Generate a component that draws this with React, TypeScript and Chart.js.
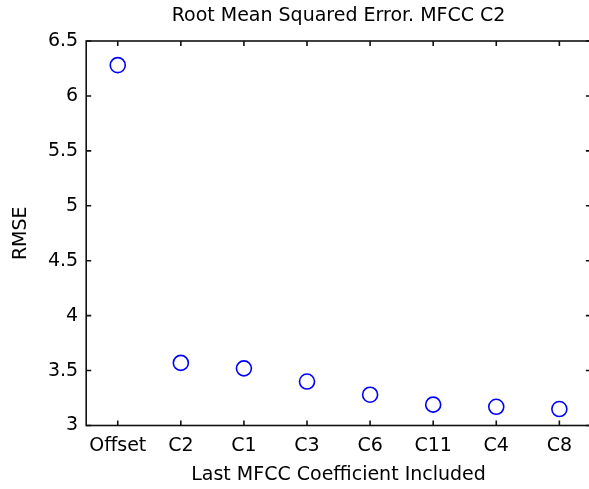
import React, { useEffect, useRef } from "react";
import { Chart, registerables } from "chart.js";

Chart.register(...registerables);

const categories = ["Offset", "C2", "C1", "C3", "C6", "C11", "C4", "C8"];
const rmseValues = [6.28, 3.57, 3.52, 3.40, 3.28, 3.19, 3.17, 3.15];
const yMin = 3;
const yMax = 6.5;
const yStep = 0.5;

const FONT = "'DejaVu Sans', 'Liberation Sans', Arial, sans-serif";

const framePlugin = {
  id: "frame",
  afterDraw(chart: any) {
    const { ctx, chartArea } = chart;
    const { left, right, top, bottom } = chartArea;
    const xs = chart.scales.x;
    const ys = chart.scales.y;
    ctx.save();
    ctx.strokeStyle = "#111";
    ctx.lineWidth = 1.6;
    ctx.strokeRect(left, top, right - left, bottom - top);
    const tl = 5;
    ctx.beginPath();
    xs.ticks.forEach((_t: any, i: number) => {
      const px = xs.getPixelForTick(i);
      ctx.moveTo(px, bottom);
      ctx.lineTo(px, bottom - tl);
      ctx.moveTo(px, top);
      ctx.lineTo(px, top + tl);
    });
    ys.ticks.forEach((_t: any, i: number) => {
      const py = ys.getPixelForTick(i);
      ctx.moveTo(left, py);
      ctx.lineTo(left + tl, py);
      ctx.moveTo(right, py);
      ctx.lineTo(right - tl, py);
    });
    ctx.stroke();
    ctx.restore();
  },
};

export default function App() {
  const ref = useRef<HTMLCanvasElement | null>(null);

  useEffect(() => {
    if (!ref.current) return;
    const chart = new Chart(ref.current, {
      type: "line",
      data: {
        labels: categories,
        datasets: [
          {
            data: rmseValues,
            showLine: false,
            pointStyle: "circle",
            pointRadius: 7.5,
            pointHoverRadius: 7.5,
            pointBorderWidth: 1.6,
            pointBorderColor: "#0000ff",
            pointBackgroundColor: "rgba(0,0,0,0)",
            borderColor: "#0000ff",
          },
        ],
      },
      options: {
        animation: false,
        responsive: false,
        maintainAspectRatio: false,
        events: [],
        layout: { padding: { left: 0, right: 8, top: 0, bottom: 0 } },
        plugins: {
          legend: { display: false },
          tooltip: { enabled: false },
          title: {
            display: true,
            text: "Root Mean Squared Error. MFCC C2",
            color: "#000",
            fullSize: false,
            font: { family: FONT, size: 19, weight: "normal", lineHeight: 1.2 },
            padding: { top: 5, bottom: 13.2 },
          },
        },
        scales: {
          x: {
            type: "category",
            offset: true,
            grid: { display: false, drawTicks: false },
            border: { display: false },
            ticks: {
              color: "#000",
              font: { family: FONT, size: 19 },
              padding: 9,
              maxRotation: 0,
              autoSkip: false,
            },
            title: {
              display: true,
              text: "Last MFCC Coefficient Included",
              color: "#000",
              font: { family: FONT, size: 19 },
              padding: { top: 0, bottom: 3 },
            },
            afterFit(scale: any) {
              scale.height = 63.5;
            },
          },
          y: {
            type: "linear",
            min: yMin,
            max: yMax,
            grid: { display: false, drawTicks: false },
            border: { display: false },
            ticks: {
              stepSize: yStep,
              color: "#000",
              font: { family: FONT, size: 19 },
              padding: 8,
              callback: (v: any) => String(Number(v)),
            },
            title: {
              display: true,
              text: "RMSE",
              color: "#000",
              font: { family: FONT, size: 19 },
              padding: { top: 10, bottom: 0 },
            },
            afterFit(scale: any) {
              scale.width = 86.2;
            },
          },
        },
      },
      plugins: [framePlugin],
    });
    return () => chart.destroy();
  }, []);

  return (
    <div
      style={{
        position: "fixed",
        left: 0,
        top: 0,
        width: 589,
        height: 489,
        overflow: "hidden",
        background: "#fff",
      }}
    >
      <canvas ref={ref} width={600} height={489} style={{ display: "block", width: 600, height: 489 }} />
    </div>
  );
}
